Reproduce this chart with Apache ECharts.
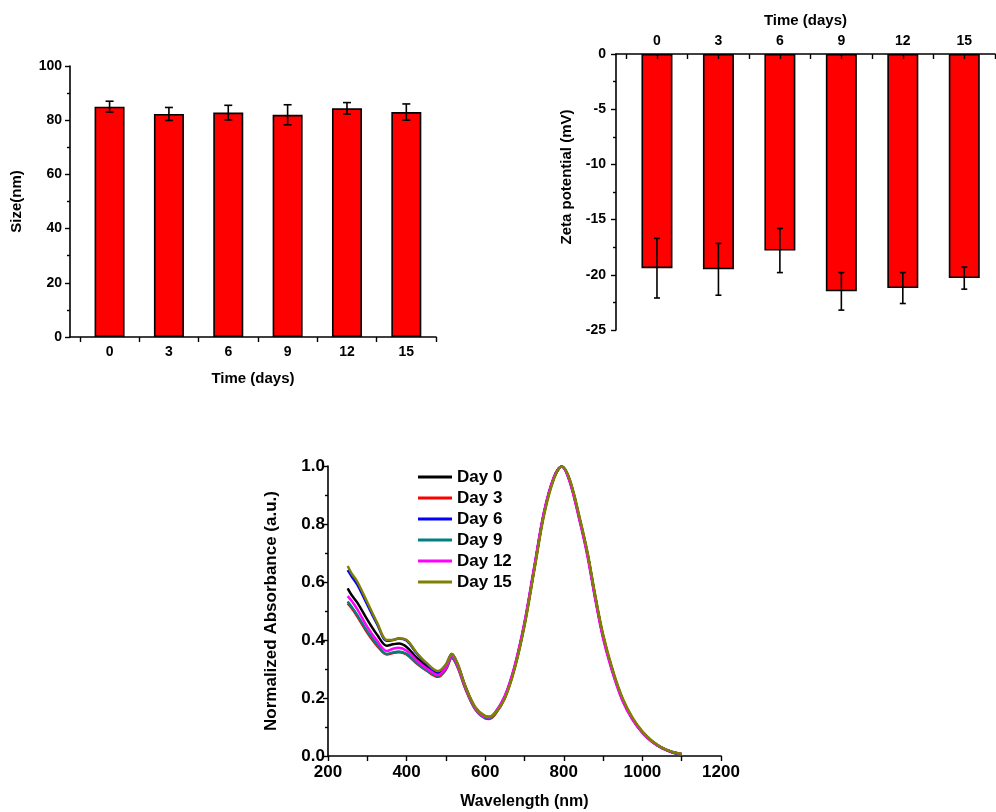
<!DOCTYPE html>
<html>
<head>
<meta charset="utf-8">
<title>Stability</title>
<script src="https://cdn.jsdelivr.net/npm/echarts@6/dist/echarts.min.js"></script>
<style>
  html, body { margin: 0; padding: 0; background: #fff; }
  #chart { width: 996px; height: 812px; }
</style>
</head>
<body>
<div id="chart"></div>
<script>
// 横轴：时间（天）
const days = [0, 3, 6, 9, 12, 15];
// 粒径 (nm) 及误差
const sizeMean = [85.0, 82.3, 82.8, 82.0, 84.4, 83.0];
const sizeErr = [2.0, 2.4, 2.7, 3.7, 2.1, 3.0];
// Zeta 电位 (mV) 及误差
const zetaMean = [-19.4, -19.5, -17.8, -21.5, -21.2, -20.3];
const zetaErr = [2.7, 2.35, 2.0, 1.7, 1.4, 1.0];
// 刻度（柱子之间）
const dayTicks = [-1.5, 1.5, 4.5, 7.5, 10.5, 13.5, 16.5];

// 吸收光谱
const wavelength = [250, 260, 275, 300, 325, 350, 365, 380, 400, 425, 450, 480, 500, 515, 530, 550, 575, 600, 610, 625,
  650, 675, 700, 725, 750, 775, 795, 815, 840, 860, 880, 900, 925, 950, 975, 1000, 1025, 1050, 1075, 1100];
const day0 = [0.578, 0.555, 0.528, 0.47, 0.418, 0.38, 0.385, 0.388, 0.376, 0.34, 0.31, 0.285, 0.31, 0.348, 0.313, 0.237, 0.165, 0.135, 0.133, 0.147,
  0.203, 0.306, 0.455, 0.648, 0.84, 0.96, 0.998, 0.95, 0.818, 0.698, 0.548, 0.413, 0.289, 0.193, 0.128, 0.082, 0.05, 0.028, 0.014, 0.006];
const day3 = [0.526, 0.51, 0.48, 0.425, 0.38, 0.35, 0.355, 0.358, 0.35, 0.32, 0.295, 0.273, 0.298, 0.338, 0.305, 0.23, 0.16, 0.13, 0.128, 0.143,
  0.2, 0.305, 0.454, 0.647, 0.839, 0.96, 0.998, 0.95, 0.818, 0.698, 0.548, 0.413, 0.289, 0.193, 0.127, 0.081, 0.049, 0.027, 0.013, 0.005];
const day6 = [0.641, 0.62, 0.59, 0.522, 0.455, 0.397, 0.4, 0.405, 0.398, 0.355, 0.318, 0.29, 0.314, 0.352, 0.316, 0.238, 0.166, 0.136, 0.134, 0.148,
  0.205, 0.307, 0.456, 0.649, 0.84, 0.96, 0.998, 0.95, 0.818, 0.698, 0.548, 0.413, 0.289, 0.193, 0.128, 0.082, 0.05, 0.028, 0.014, 0.006];
const day9 = [0.533, 0.515, 0.485, 0.43, 0.385, 0.352, 0.357, 0.36, 0.352, 0.322, 0.297, 0.277, 0.3, 0.34, 0.307, 0.232, 0.161, 0.131, 0.13, 0.145,
  0.202, 0.305, 0.454, 0.647, 0.839, 0.96, 0.998, 0.95, 0.818, 0.698, 0.548, 0.413, 0.289, 0.193, 0.127, 0.081, 0.049, 0.027, 0.013, 0.005];
const day12 = [0.551, 0.535, 0.505, 0.445, 0.397, 0.362, 0.37, 0.373, 0.363, 0.33, 0.303, 0.28, 0.305, 0.345, 0.31, 0.235, 0.163, 0.134, 0.133, 0.15,
  0.208, 0.312, 0.462, 0.655, 0.845, 0.963, 0.998, 0.945, 0.812, 0.69, 0.54, 0.405, 0.283, 0.188, 0.125, 0.08, 0.048, 0.027, 0.014, 0.008];
const day15 = [0.655, 0.63, 0.6, 0.53, 0.46, 0.4, 0.4, 0.405, 0.4, 0.357, 0.322, 0.293, 0.316, 0.352, 0.318, 0.24, 0.168, 0.138, 0.136, 0.148,
  0.198, 0.3, 0.448, 0.64, 0.832, 0.955, 0.998, 0.955, 0.825, 0.705, 0.555, 0.42, 0.295, 0.198, 0.132, 0.085, 0.052, 0.029, 0.015, 0.007];

const spectra = [
  { name: 'Day 0', data: day0, color: '#000000' },
  { name: 'Day 3', data: day3, color: '#ff0000' },
  { name: 'Day 6', data: day6, color: '#0000ff' },
  { name: 'Day 9', data: day9, color: '#008080' },
  { name: 'Day 12', data: day12, color: '#ff00ff' },
  { name: 'Day 15', data: day15, color: '#808000' },
];

const font = 'Liberation Sans, Arial, sans-serif';
const axisLine = { onZero: false, lineStyle: { color: '#000', width: 1.6 } };
const tickLine = { color: '#000', width: 1.4 };

// 误差棒
function errorBar(cap) {
  return function (params, api) {
    const x = api.value(0);
    const lo = api.coord([x, api.value(1) - api.value(2)]);
    const hi = api.coord([x, api.value(1) + api.value(2)]);
    const style = { stroke: '#000', lineWidth: 1.6 };
    return {
      type: 'group',
      children: [
        { type: 'line', shape: { x1: lo[0], y1: lo[1], x2: hi[0], y2: hi[1] }, style },
        { type: 'line', shape: { x1: lo[0] - cap, y1: lo[1], x2: lo[0] + cap, y2: lo[1] }, style },
        { type: 'line', shape: { x1: hi[0] - cap, y1: hi[1], x2: hi[0] + cap, y2: hi[1] }, style },
      ],
    };
  };
}

function dayAxis(gridIndex, position, inside) {
  return {
    type: 'value',
    gridIndex,
    position,
    min: -2,
    max: 16.5,
    z: 5,
    name: 'Time (days)',
    nameLocation: 'middle',
    nameGap: position === 'top' ? 26 : 34,
    nameTextStyle: { fontFamily: font, fontWeight: 'bold', fontSize: 15, color: '#000' },
    axisLine,
    axisTick: { show: true, inside, length: 5, lineStyle: tickLine,
      customValues: inside ? dayTicks.concat(days) : dayTicks },
    axisLabel: { customValues: days, margin: position === 'top' ? 6 : 8,
      fontFamily: font, fontWeight: 'bold', fontSize: 14, color: '#000' },
    splitLine: { show: false },
  };
}

const chart = echarts.init(document.getElementById('chart'));

const option = {
  animation: false,
  grid: [
    { left: 70, top: 66, width: 366, height: 271 },
    { left: 616, top: 54, width: 379, height: 276 },
    { left: 328, top: 466, width: 393, height: 290 },
  ],
  legend: {
    data: spectra.map(s => s.name),
    orient: 'vertical',
    left: 418,
    top: 468,
    padding: 0,
    icon: 'rect',
    itemWidth: 34,
    itemHeight: 3,
    itemGap: 3,
    textStyle: { fontFamily: font, fontWeight: 'bold', fontSize: 17, color: '#000', lineHeight: 18 },
  },
  xAxis: [
    dayAxis(0, 'bottom', false),
    dayAxis(1, 'top', true),
    {
      type: 'value',
      gridIndex: 2,
      min: 200,
      max: 1200,
      interval: 200,
      name: 'Wavelength (nm)',
      nameLocation: 'middle',
      nameGap: 38,
      nameTextStyle: { fontFamily: font, fontWeight: 'bold', fontSize: 16, color: '#000' },
      axisLine,
      axisTick: { length: 5, lineStyle: tickLine },
      minorTick: { show: true, splitNumber: 2, length: 5, lineStyle: tickLine },
      axisLabel: { margin: 8, fontFamily: font, fontWeight: 'bold', fontSize: 17, color: '#000',
        formatter: v => String(v) },
      splitLine: { show: false },
    },
  ],
  yAxis: [
    {
      type: 'value',
      gridIndex: 0,
      min: 0,
      max: 100,
      interval: 20,
      name: 'Size(nm)',
      nameLocation: 'middle',
      nameGap: 46,
      nameTextStyle: { fontFamily: font, fontWeight: 'bold', fontSize: 15, color: '#000' },
      axisLine: { show: true, onZero: false, lineStyle: axisLine.lineStyle },
      axisTick: { show: true, length: 5, lineStyle: tickLine },
      minorTick: { show: true, splitNumber: 2, length: 3, lineStyle: tickLine },
      axisLabel: { margin: 8, fontFamily: font, fontWeight: 'bold', fontSize: 14, color: '#000' },
      splitLine: { show: false },
    },
    {
      type: 'value',
      gridIndex: 1,
      min: -25,
      max: 0,
      interval: 5,
      name: 'Zeta potential (mV)',
      nameLocation: 'middle',
      nameGap: 42,
      nameTextStyle: { fontFamily: font, fontWeight: 'bold', fontSize: 15, color: '#000',
        padding: [0, 0, 0, 30] },
      axisLine: { show: true, onZero: false, lineStyle: axisLine.lineStyle },
      axisTick: { show: true, length: 5, lineStyle: tickLine },
      minorTick: { show: true, splitNumber: 2, length: 3, lineStyle: tickLine },
      axisLabel: { margin: 10, fontFamily: font, fontWeight: 'bold', fontSize: 14, color: '#000' },
      splitLine: { show: false },
    },
    {
      type: 'value',
      gridIndex: 2,
      min: 0,
      max: 1,
      interval: 0.2,
      name: 'Normalized Absorbance (a.u.)',
      nameLocation: 'middle',
      nameGap: 48,
      nameTextStyle: { fontFamily: font, fontWeight: 'bold', fontSize: 17, color: '#000' },
      axisLine: { show: true, onZero: false, lineStyle: axisLine.lineStyle },
      axisTick: { show: true, length: 5, lineStyle: tickLine },
      minorTick: { show: true, splitNumber: 2, length: 3, lineStyle: tickLine },
      axisLabel: { margin: 3, fontFamily: font, fontWeight: 'bold', fontSize: 17, color: '#000',
        formatter: v => v.toFixed(1) },
      splitLine: { show: false },
    },
  ],
  series: [
    {
      type: 'bar',
      xAxisIndex: 0,
      yAxisIndex: 0,
      barWidth: 30,
      data: days.map((d, i) => [d, sizeMean[i]]),
      itemStyle: { color: '#ff0000', borderColor: '#000', borderWidth: 1.6 },
    },
    {
      type: 'custom',
      xAxisIndex: 0,
      yAxisIndex: 0,
      z: 4,
      renderItem: errorBar(4),
      encode: { x: 0, y: 1 },
      data: days.map((d, i) => [d, sizeMean[i], sizeErr[i]]),
    },
    {
      type: 'bar',
      xAxisIndex: 1,
      yAxisIndex: 1,
      barWidth: 31,
      data: days.map((d, i) => [d, zetaMean[i]]),
      itemStyle: { color: '#ff0000', borderColor: '#000', borderWidth: 1.6 },
    },
    {
      type: 'custom',
      xAxisIndex: 1,
      yAxisIndex: 1,
      z: 4,
      renderItem: errorBar(3),
      encode: { x: 0, y: 1 },
      data: days.map((d, i) => [d, zetaMean[i], zetaErr[i]]),
    },
  ],
};

spectra.forEach(s => {
  option.series.push({
    name: s.name,
    type: 'line',
    xAxisIndex: 2,
    yAxisIndex: 2,
    smooth: 0.35,
    symbol: 'none',
    color: s.color,
    lineStyle: { color: s.color, width: 2.5 },
    data: wavelength.map((w, i) => [w, s.data[i]]),
  });
});

chart.setOption(option);
</script>
</body>
</html>
